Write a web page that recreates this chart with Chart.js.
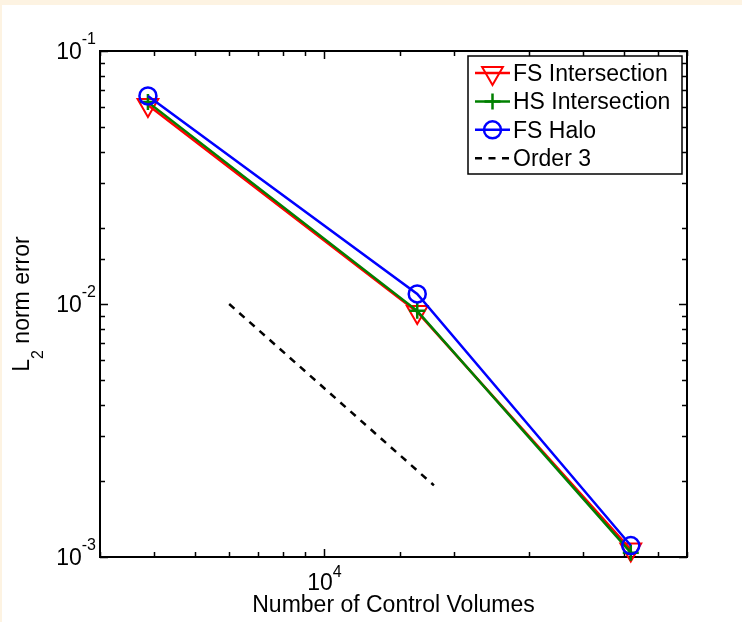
<!DOCTYPE html>
<html>
<head>
<meta charset="utf-8">
<script src="https://cdn.jsdelivr.net/npm/chart.js@4/dist/chart.umd.min.js"></script>
<style>
  html, body { margin: 0; padding: 0; background: #fdf3e2; }
  canvas { display: block; }
</style>
</head>
<body>
<canvas id="c" width="742" height="622"></canvas>
<script>
// Convergence data: L2 error versus mesh size for three boundary treatments
const seriesNames = ['FS Intersection', 'HS Intersection', 'FS Halo', 'Order 3'];
const controlVolumes = [3880, 16460, 51770];
const fsIntersection = [0.0612, 0.0093, 0.00107];
const hsIntersection = [0.0628, 0.0094, 0.00104];
const fsHalo = [0.0664, 0.01096, 0.00111];
// Reference slope line (third order, error ~ N^-3/2 in 2D)
const orderX = [6000, 18000];
const orderY = [0.01, 0.00192];
// Decade tick labels, written as 10 with a superscript exponent
const xMajorTicks = [1e4];
const xTickExponents = ['4'];
const yMajorTicks = [1e-3, 1e-2, 1e-1];
const yTickExponents = ['-3', '-2', '-1'];
const xTitle = 'Number of Control Volumes';
const yTitleParts = ['L', '2', ' norm error'];

const FONT = '"Liberation Sans", Arial, Helvetica, sans-serif';
const BIG = '23px ' + FONT;
const SMALL = '16px ' + FONT;
const toPoints = (xs, ys) => xs.map((v, i) => ({ x: v, y: ys[i] }));
const isDecade = v => { const l = Math.log10(v); return Math.abs(l - Math.round(l)) < 1e-6; };

const frameAndLabels = {
  id: 'frameAndLabels',
  beforeDraw(chart) {
    const ctx = chart.ctx;
    ctx.save();
    ctx.fillStyle = '#fdf3e2';
    ctx.fillRect(0, 0, chart.width, chart.height);
    ctx.fillStyle = '#ffffff';
    ctx.fillRect(2, 5, chart.width - 2, chart.height - 5);
    ctx.restore();
  },
  beforeDatasetsDraw(chart) {
    const { ctx, chartArea: a, scales: { x, y } } = chart;
    ctx.save();
    ctx.strokeStyle = '#000';
    ctx.lineWidth = 1.5;
    ctx.beginPath();
    x.ticks.forEach(t => {
      const px = Math.round(x.getPixelForValue(t.value)) + 0.5;
      const len = isDecade(t.value) ? 8 : 5;
      ctx.moveTo(px, a.bottom); ctx.lineTo(px, a.bottom - len);
      ctx.moveTo(px, a.top); ctx.lineTo(px, a.top + len);
    });
    y.ticks.forEach(t => {
      const py = Math.round(y.getPixelForValue(t.value)) + 0.5;
      const len = isDecade(t.value) ? 8 : 5;
      ctx.moveTo(a.left, py); ctx.lineTo(a.left + len, py);
      ctx.moveTo(a.right, py); ctx.lineTo(a.right - len, py);
    });
    ctx.stroke();
    ctx.lineWidth = 2;
    ctx.strokeRect(a.left, a.top, a.right - a.left, a.bottom - a.top);

    ctx.fillStyle = '#000';
    ctx.textBaseline = 'alphabetic';
    // y tick labels
    yMajorTicks.forEach((v, i) => {
      const py = y.getPixelForValue(v);
      ctx.font = SMALL;
      ctx.textAlign = 'right';
      const ew = ctx.measureText(yTickExponents[i]).width;
      ctx.fillText(yTickExponents[i], a.left - 4, py - 7);
      ctx.font = BIG;
      ctx.fillText('10', a.left - 4 - ew, py + 8);
    });
    // x tick labels
    xMajorTicks.forEach((v, i) => {
      const px = x.getPixelForValue(v);
      ctx.font = BIG;
      const bw = ctx.measureText('10').width;
      ctx.font = SMALL;
      const ew = ctx.measureText(xTickExponents[i]).width;
      const start = px - (bw + ew) / 2;
      ctx.textAlign = 'left';
      ctx.font = BIG;
      ctx.fillText('10', start, a.bottom + 33);
      ctx.font = SMALL;
      ctx.fillText(xTickExponents[i], start + bw, a.bottom + 20);
    });
    // x title
    ctx.font = BIG;
    ctx.textAlign = 'center';
    ctx.fillText(xTitle, (a.left + a.right) / 2, a.bottom + 55);
    // y title (rotated, with subscript)
    ctx.save();
    ctx.font = BIG;
    const w0 = ctx.measureText(yTitleParts[0]).width;
    const w2 = ctx.measureText(yTitleParts[2]).width;
    ctx.font = SMALL;
    const w1 = ctx.measureText(yTitleParts[1]).width;
    const total = w0 + w1 + w2;
    const cy = (a.top + a.bottom) / 2;
    ctx.translate(29, cy + total / 2);
    ctx.rotate(-Math.PI / 2);
    ctx.textAlign = 'left';
    ctx.font = BIG;
    ctx.fillText(yTitleParts[0], 0, 0);
    ctx.font = SMALL;
    ctx.fillText(yTitleParts[1], w0, 14);
    ctx.font = BIG;
    ctx.fillText(yTitleParts[2], w0 + w1, 0);
    ctx.restore();
    ctx.restore();
  },
  afterDatasetsDraw(chart) {
    const ctx = chart.ctx;
    const box = { left: 468, top: 56, right: 682, bottom: 174 };
    ctx.save();
    ctx.fillStyle = '#fff';
    ctx.fillRect(box.left, box.top, box.right - box.left, box.bottom - box.top);
    ctx.strokeStyle = '#000';
    ctx.lineWidth = 1.5;
    ctx.strokeRect(box.left, box.top, box.right - box.left, box.bottom - box.top);
    chart.data.datasets.forEach((ds, i) => {
      const ry = 73 + i * 28.4;
      ctx.save();
      ctx.strokeStyle = ds.borderColor;
      ctx.lineWidth = ds.borderWidth;
      ctx.setLineDash(ds.borderDash || []);
      ctx.beginPath();
      ctx.moveTo(475, ry);
      ctx.lineTo(510, ry);
      ctx.stroke();
      ctx.setLineDash([]);
      if (ds.pointRadius > 0) {
        ctx.fillStyle = 'rgba(0,0,0,0)';
        ctx.strokeStyle = ds.borderColor;
        ctx.lineWidth = ds.pointBorderWidth;
        Chart.helpers.drawPoint(ctx, {
          pointStyle: ds.pointStyle,
          rotation: ds.pointRotation || 0,
          radius: ds.pointRadius,
          borderWidth: ds.pointBorderWidth
        }, 492.5, ry);
      }
      ctx.restore();
      ctx.fillStyle = '#000';
      ctx.font = BIG;
      ctx.textAlign = 'left';
      ctx.textBaseline = 'alphabetic';
      ctx.fillText(ds.label, 513, ry + 8);
    });
    ctx.restore();
  }
};

const common = { backgroundColor: 'rgba(0,0,0,0)', pointBackgroundColor: 'rgba(0,0,0,0)', clip: false, tension: 0 };

new Chart(document.getElementById('c'), {
  type: 'line',
  data: {
    datasets: [
      Object.assign({
        label: seriesNames[0], data: toPoints(controlVolumes, fsIntersection),
        borderColor: '#ff0000', borderWidth: 2.5, pointStyle: 'triangle', pointRotation: 180,
        pointRadius: 12, pointBorderWidth: 2, order: 3
      }, common),
      Object.assign({
        label: seriesNames[1], data: toPoints(controlVolumes, hsIntersection),
        borderColor: '#008000', borderWidth: 2.5, pointStyle: 'cross',
        pointRadius: 8, pointBorderWidth: 2.5, order: 2
      }, common),
      Object.assign({
        label: seriesNames[2], data: toPoints(controlVolumes, fsHalo),
        borderColor: '#0000ff', borderWidth: 2.5, pointStyle: 'circle',
        pointRadius: 8.5, pointBorderWidth: 2.5, order: 1
      }, common),
      Object.assign({
        label: seriesNames[3], data: toPoints(orderX, orderY),
        borderColor: '#000000', borderWidth: 2.5, borderDash: [7, 6.5],
        pointRadius: 0, pointBorderWidth: 0, order: 4
      }, common)
    ]
  },
  options: {
    responsive: false,
    animation: false,
    devicePixelRatio: 1,
    layout: { padding: { left: 100, top: 51, right: 55, bottom: 65 } },
    plugins: { legend: { display: false }, tooltip: { enabled: false } },
    scales: {
      x: { type: 'logarithmic', min: 3000, max: 70000, display: false },
      y: { type: 'logarithmic', min: 0.001, max: 0.1, display: false }
    }
  },
  plugins: [frameAndLabels]
});
</script>
</body>
</html>
